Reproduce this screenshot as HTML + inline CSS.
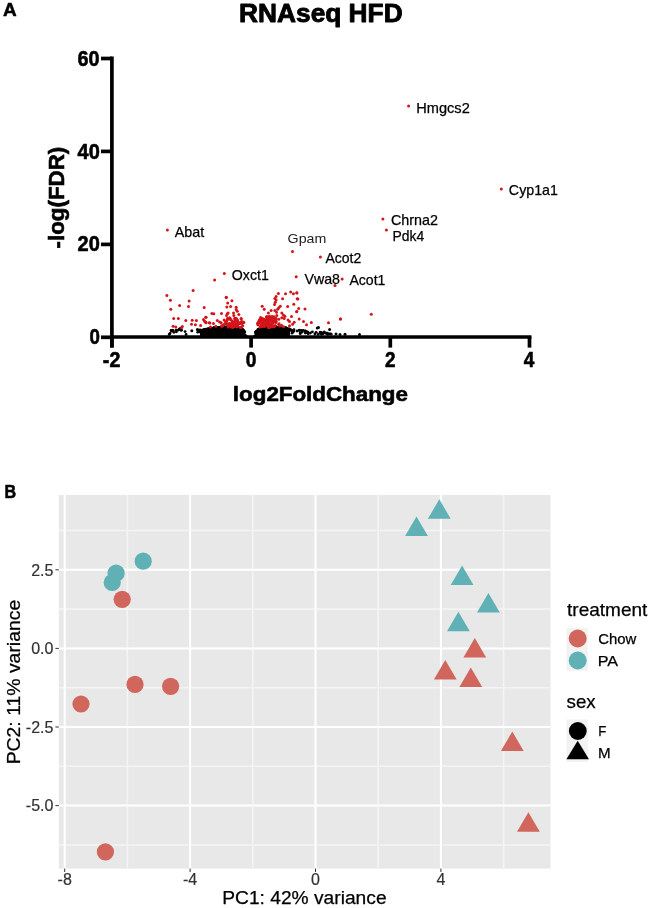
<!DOCTYPE html>
<html><head><meta charset="utf-8"><style>
html,body{margin:0;padding:0;background:#fff;width:650px;height:908px;overflow:hidden;}
svg{display:block;font-family:"Liberation Sans",sans-serif;}
#w{will-change:transform;width:650px;height:908px;}
</style></head><body><div id="w">
<svg width="650" height="908" viewBox="0 0 650 908">
<text x="3.13" y="15.95" font-family="Liberation Sans, sans-serif" font-weight="bold" stroke="#000" stroke-width="0.5" stroke-linejoin="round" font-size="17.46" textLength="13.69" lengthAdjust="spacingAndGlyphs" fill="#000">A</text>
<text x="239.09" y="22.35" font-family="Liberation Sans, sans-serif" font-weight="bold" stroke="#000" stroke-width="0.9" stroke-linejoin="round" font-size="26.30" textLength="163.53" lengthAdjust="spacingAndGlyphs" fill="#000">RNAseq HFD</text>
<g fill="#000">
<path d="M200.0,337.0 L200.0,332.1 L201.0,331.8 L202.0,331.8 L203.0,331.0 L204.0,330.7 L205.0,330.4 L206.0,329.9 L207.0,330.0 L208.0,330.0 L209.0,330.0 L210.0,329.2 L211.0,329.2 L212.0,328.9 L213.0,329.3 L214.0,329.1 L215.0,328.3 L216.0,329.1 L217.0,329.0 L218.0,328.7 L219.0,328.6 L220.0,328.1 L221.0,327.9 L222.0,328.3 L223.0,327.8 L224.0,327.8 L225.0,327.8 L226.0,327.6 L227.0,328.0 L228.0,328.0 L229.0,328.3 L230.0,328.0 L231.0,328.1 L232.0,328.0 L233.0,328.1 L234.0,327.9 L235.0,327.8 L236.0,328.6 L237.0,328.7 L238.0,328.8 L239.0,329.1 L240.0,329.2 L241.0,329.7 L242.0,330.4 L243.0,330.8 L244.0,332.0 L245.0,333.0 L246.0,334.0 L247.0,335.0 L248.0,336.0 L249.0,336.4 L250.0,336.8 L251.0,336.8 L252.0,336.4 L253.0,336.0 L254.0,335.0 L255.0,334.0 L256.0,332.8 L257.0,331.5 L258.0,330.9 L259.0,329.6 L260.0,329.4 L261.0,328.4 L262.0,328.8 L263.0,328.5 L264.0,327.5 L265.0,327.6 L266.0,328.2 L267.0,327.7 L268.0,328.1 L269.0,327.5 L270.0,327.2 L271.0,327.7 L272.0,327.9 L273.0,327.5 L274.0,327.4 L275.0,327.6 L276.0,328.3 L277.0,328.1 L278.0,327.6 L279.0,327.8 L280.0,327.7 L281.0,327.8 L282.0,328.6 L283.0,328.2 L284.0,328.7 L285.0,328.8 L286.0,328.7 L287.0,329.6 L288.0,329.5 L289.0,330.4 L290.0,330.3 L290.0,337.0 Z"/>
<circle cx="256.1" cy="331.8" r="1.45"/>
<circle cx="284.8" cy="329.2" r="1.45"/>
<circle cx="266.6" cy="326.8" r="1.45"/>
<circle cx="241.9" cy="329.4" r="1.45"/>
<circle cx="284.9" cy="328.8" r="1.45"/>
<circle cx="210.2" cy="329.9" r="1.45"/>
<circle cx="242.2" cy="329.6" r="1.45"/>
<circle cx="201.2" cy="331.7" r="1.45"/>
<circle cx="219.5" cy="327.7" r="1.45"/>
<circle cx="268.9" cy="328.4" r="1.45"/>
<circle cx="214.4" cy="327.8" r="1.45"/>
<circle cx="255.6" cy="332.8" r="1.45"/>
<circle cx="211.4" cy="330.0" r="1.45"/>
<circle cx="218.9" cy="327.4" r="1.45"/>
<circle cx="219.4" cy="329.1" r="1.45"/>
<circle cx="226.0" cy="327.1" r="1.45"/>
<circle cx="286.5" cy="329.3" r="1.45"/>
<circle cx="218.4" cy="327.7" r="1.45"/>
<circle cx="284.7" cy="328.5" r="1.45"/>
<circle cx="280.4" cy="329.2" r="1.45"/>
<circle cx="226.9" cy="327.2" r="1.45"/>
<circle cx="213.1" cy="328.3" r="1.45"/>
<circle cx="205.9" cy="329.5" r="1.45"/>
<circle cx="200.3" cy="332.1" r="1.45"/>
<circle cx="261.0" cy="327.8" r="1.45"/>
<circle cx="273.7" cy="327.2" r="1.45"/>
<circle cx="243.3" cy="330.7" r="1.45"/>
<circle cx="263.4" cy="327.9" r="1.45"/>
<circle cx="205.1" cy="329.4" r="1.45"/>
<circle cx="267.5" cy="326.6" r="1.45"/>
<circle cx="276.0" cy="328.3" r="1.45"/>
<circle cx="233.0" cy="327.0" r="1.45"/>
<circle cx="200.8" cy="331.3" r="1.45"/>
<circle cx="286.0" cy="328.0" r="1.45"/>
<circle cx="217.7" cy="327.5" r="1.45"/>
<circle cx="284.8" cy="329.7" r="1.45"/>
<circle cx="231.0" cy="327.5" r="1.45"/>
<circle cx="269.8" cy="327.3" r="1.45"/>
<circle cx="209.7" cy="328.5" r="1.45"/>
<circle cx="277.4" cy="328.4" r="1.45"/>
<circle cx="203.3" cy="330.2" r="1.45"/>
<circle cx="230.7" cy="327.0" r="1.45"/>
<circle cx="282.6" cy="328.4" r="1.45"/>
<circle cx="228.1" cy="328.6" r="1.45"/>
<circle cx="228.5" cy="327.0" r="1.45"/>
<circle cx="213.4" cy="328.2" r="1.45"/>
<circle cx="262.0" cy="327.7" r="1.45"/>
<circle cx="204.4" cy="329.4" r="1.45"/>
<circle cx="288.8" cy="329.9" r="1.45"/>
<circle cx="221.4" cy="327.3" r="1.45"/>
<circle cx="274.4" cy="327.5" r="1.45"/>
<circle cx="205.0" cy="329.5" r="1.45"/>
<circle cx="282.4" cy="328.3" r="1.45"/>
<circle cx="275.5" cy="326.9" r="1.45"/>
<circle cx="211.8" cy="328.4" r="1.45"/>
<circle cx="256.7" cy="333.0" r="1.45"/>
<circle cx="270.9" cy="327.2" r="1.45"/>
<circle cx="213.4" cy="328.4" r="1.45"/>
<circle cx="276.0" cy="327.0" r="1.45"/>
<circle cx="289.9" cy="330.4" r="1.45"/>
<circle cx="276.7" cy="327.7" r="1.45"/>
<circle cx="243.9" cy="331.1" r="1.45"/>
<circle cx="265.7" cy="327.4" r="1.45"/>
<circle cx="236.3" cy="327.1" r="1.45"/>
<circle cx="213.2" cy="329.8" r="1.45"/>
<circle cx="286.4" cy="329.8" r="1.45"/>
<circle cx="256.4" cy="332.0" r="1.45"/>
<circle cx="208.0" cy="328.7" r="1.45"/>
<circle cx="224.5" cy="327.3" r="1.45"/>
<circle cx="232.5" cy="328.6" r="1.45"/>
<circle cx="270.7" cy="326.7" r="1.45"/>
<circle cx="259.8" cy="329.5" r="1.45"/>
<circle cx="268.4" cy="327.4" r="1.45"/>
<circle cx="225.3" cy="328.0" r="1.45"/>
<circle cx="243.7" cy="330.9" r="1.45"/>
<circle cx="226.4" cy="328.3" r="1.45"/>
<circle cx="285.1" cy="328.4" r="1.45"/>
<circle cx="201.0" cy="331.6" r="1.45"/>
<circle cx="222.6" cy="327.5" r="1.45"/>
<circle cx="273.5" cy="327.5" r="1.45"/>
<circle cx="258.3" cy="329.5" r="1.45"/>
<circle cx="258.0" cy="330.3" r="1.45"/>
<circle cx="266.4" cy="327.0" r="1.45"/>
<circle cx="275.9" cy="327.4" r="1.45"/>
<circle cx="278.3" cy="327.7" r="1.45"/>
<circle cx="286.1" cy="330.1" r="1.45"/>
<circle cx="215.0" cy="328.7" r="1.45"/>
<circle cx="243.0" cy="331.8" r="1.45"/>
<circle cx="262.2" cy="327.4" r="1.45"/>
<circle cx="215.5" cy="329.0" r="1.45"/>
<circle cx="270.2" cy="327.6" r="1.45"/>
<circle cx="237.9" cy="327.9" r="1.45"/>
<circle cx="256.1" cy="331.8" r="1.45"/>
<circle cx="264.8" cy="328.0" r="1.45"/>
<circle cx="202.5" cy="330.6" r="1.45"/>
<circle cx="258.5" cy="329.8" r="1.45"/>
<circle cx="219.7" cy="327.8" r="1.45"/>
<circle cx="203.8" cy="330.8" r="1.45"/>
<circle cx="242.4" cy="329.7" r="1.45"/>
<circle cx="212.0" cy="328.4" r="1.45"/>
<circle cx="228.6" cy="327.1" r="1.45"/>
<circle cx="203.2" cy="330.4" r="1.45"/>
<circle cx="241.9" cy="330.2" r="1.45"/>
<circle cx="221.4" cy="328.0" r="1.45"/>
<circle cx="281.3" cy="328.0" r="1.45"/>
<circle cx="225.1" cy="326.9" r="1.45"/>
<circle cx="236.9" cy="328.4" r="1.45"/>
<circle cx="233.6" cy="327.9" r="1.45"/>
<circle cx="203.2" cy="330.1" r="1.45"/>
<circle cx="230.5" cy="327.1" r="1.45"/>
<circle cx="286.2" cy="328.3" r="1.45"/>
<circle cx="273.2" cy="327.4" r="1.45"/>
<circle cx="257.8" cy="330.0" r="1.45"/>
<circle cx="286.1" cy="328.2" r="1.45"/>
<circle cx="287.1" cy="328.9" r="1.45"/>
<circle cx="280.4" cy="327.5" r="1.45"/>
<circle cx="200.1" cy="331.9" r="1.45"/>
<circle cx="212.7" cy="328.7" r="1.45"/>
<circle cx="256.7" cy="331.6" r="1.45"/>
<circle cx="238.9" cy="328.2" r="1.45"/>
<circle cx="220.4" cy="327.8" r="1.45"/>
<circle cx="234.2" cy="329.1" r="1.45"/>
<circle cx="286.5" cy="329.1" r="1.45"/>
<circle cx="223.4" cy="327.6" r="1.45"/>
<circle cx="288.3" cy="329.7" r="1.45"/>
<circle cx="228.7" cy="326.9" r="1.45"/>
<circle cx="288.6" cy="329.6" r="1.45"/>
<circle cx="242.9" cy="330.0" r="1.45"/>
<circle cx="211.0" cy="328.9" r="1.45"/>
<circle cx="226.4" cy="327.6" r="1.45"/>
<circle cx="270.4" cy="326.5" r="1.45"/>
<circle cx="224.6" cy="327.1" r="1.45"/>
<circle cx="284.2" cy="327.7" r="1.45"/>
<circle cx="224.1" cy="327.6" r="1.45"/>
<circle cx="213.9" cy="328.5" r="1.45"/>
<circle cx="242.7" cy="329.9" r="1.45"/>
<circle cx="258.0" cy="330.6" r="1.45"/>
<circle cx="210.6" cy="329.2" r="1.45"/>
<circle cx="268.4" cy="326.9" r="1.45"/>
<circle cx="230.3" cy="327.9" r="1.45"/>
<circle cx="226.7" cy="327.9" r="1.45"/>
<circle cx="232.5" cy="327.0" r="1.45"/>
<circle cx="267.1" cy="326.8" r="1.45"/>
<circle cx="222.7" cy="327.2" r="1.45"/>
<circle cx="241.0" cy="330.4" r="1.45"/>
<circle cx="201.3" cy="331.5" r="1.45"/>
<circle cx="270.1" cy="327.5" r="1.45"/>
<circle cx="263.7" cy="327.4" r="1.45"/>
<circle cx="256.9" cy="332.6" r="1.45"/>
<circle cx="234.7" cy="327.0" r="1.45"/>
<circle cx="235.3" cy="327.2" r="1.45"/>
<circle cx="226.7" cy="327.4" r="1.45"/>
<circle cx="274.7" cy="328.2" r="1.45"/>
<circle cx="262.5" cy="327.8" r="1.45"/>
<circle cx="239.0" cy="328.1" r="1.45"/>
<circle cx="282.0" cy="328.7" r="1.45"/>
<circle cx="212.8" cy="329.1" r="1.45"/>
<circle cx="244.8" cy="331.9" r="1.45"/>
<circle cx="229.8" cy="327.5" r="1.45"/>
<circle cx="273.1" cy="327.5" r="1.45"/>
<circle cx="206.2" cy="329.2" r="1.45"/>
<circle cx="271.3" cy="328.1" r="1.45"/>
<circle cx="259.7" cy="329.5" r="1.45"/>
<circle cx="288.1" cy="328.9" r="1.45"/>
<circle cx="289.9" cy="329.5" r="1.45"/>
<circle cx="275.8" cy="327.0" r="1.45"/>
<circle cx="219.7" cy="328.6" r="1.45"/>
<circle cx="264.1" cy="328.6" r="1.45"/>
<circle cx="212.1" cy="328.6" r="1.45"/>
<circle cx="213.5" cy="329.8" r="1.45"/>
<circle cx="237.3" cy="327.8" r="1.45"/>
<circle cx="203.9" cy="330.7" r="1.45"/>
<circle cx="209.7" cy="328.7" r="1.45"/>
<circle cx="205.2" cy="329.4" r="1.45"/>
<circle cx="266.8" cy="327.0" r="1.45"/>
<circle cx="238.9" cy="328.0" r="1.45"/>
<circle cx="228.3" cy="327.7" r="1.45"/>
<circle cx="284.5" cy="328.2" r="1.45"/>
<circle cx="233.7" cy="328.1" r="1.45"/>
<circle cx="213.6" cy="328.3" r="1.45"/>
<circle cx="256.8" cy="332.7" r="1.45"/>
<circle cx="255.9" cy="332.0" r="1.45"/>
<circle cx="223.7" cy="327.6" r="1.45"/>
<circle cx="267.6" cy="326.8" r="1.45"/>
<circle cx="212.0" cy="328.2" r="1.45"/>
<circle cx="266.3" cy="327.5" r="1.45"/>
<circle cx="216.1" cy="327.8" r="1.45"/>
<circle cx="207.7" cy="330.1" r="1.45"/>
<circle cx="260.1" cy="328.3" r="1.45"/>
<circle cx="221.5" cy="327.4" r="1.45"/>
<circle cx="278.9" cy="327.6" r="1.45"/>
<circle cx="271.7" cy="326.6" r="1.45"/>
<circle cx="202.7" cy="330.1" r="1.45"/>
<circle cx="213.6" cy="328.1" r="1.45"/>
<circle cx="285.7" cy="328.0" r="1.45"/>
<circle cx="210.4" cy="328.9" r="1.45"/>
<circle cx="287.5" cy="329.3" r="1.45"/>
<circle cx="212.6" cy="329.4" r="1.45"/>
<circle cx="256.2" cy="331.9" r="1.45"/>
<circle cx="230.0" cy="327.4" r="1.45"/>
<circle cx="231.4" cy="327.2" r="1.45"/>
<circle cx="274.8" cy="327.0" r="1.45"/>
<circle cx="258.3" cy="329.5" r="1.45"/>
<circle cx="276.6" cy="327.6" r="1.45"/>
<circle cx="266.6" cy="326.9" r="1.45"/>
<circle cx="203.0" cy="330.2" r="1.45"/>
<circle cx="218.2" cy="329.2" r="1.45"/>
<circle cx="243.3" cy="330.8" r="1.45"/>
<circle cx="268.4" cy="327.5" r="1.45"/>
<circle cx="280.1" cy="326.9" r="1.45"/>
<circle cx="255.8" cy="333.0" r="1.45"/>
<circle cx="209.0" cy="329.0" r="1.45"/>
<circle cx="213.9" cy="328.2" r="1.45"/>
<circle cx="234.7" cy="327.5" r="1.45"/>
<circle cx="279.2" cy="327.3" r="1.45"/>
<circle cx="225.0" cy="327.5" r="1.45"/>
<circle cx="214.5" cy="327.8" r="1.45"/>
<circle cx="243.4" cy="331.0" r="1.45"/>
<circle cx="202.9" cy="330.7" r="1.45"/>
<circle cx="284.4" cy="328.0" r="1.45"/>
<circle cx="261.9" cy="327.7" r="1.45"/>
<circle cx="285.1" cy="328.6" r="1.45"/>
<circle cx="210.6" cy="328.7" r="1.45"/>
<circle cx="260.7" cy="328.2" r="1.45"/>
<circle cx="265.6" cy="327.0" r="1.45"/>
<circle cx="202.2" cy="330.7" r="1.45"/>
<circle cx="220.7" cy="328.0" r="1.45"/>
<circle cx="287.6" cy="328.9" r="1.45"/>
<circle cx="232.8" cy="327.2" r="1.45"/>
<circle cx="225.5" cy="327.8" r="1.45"/>
<circle cx="265.9" cy="326.8" r="1.45"/>
<circle cx="221.6" cy="327.7" r="1.45"/>
<circle cx="260.5" cy="328.9" r="1.45"/>
<circle cx="238.8" cy="328.1" r="1.45"/>
<circle cx="200.2" cy="330.0" r="1.4"/>
<circle cx="170.0" cy="333.5" r="1.4"/>
<circle cx="181.5" cy="330.2" r="1.4"/>
<circle cx="186.1" cy="334.5" r="1.4"/>
<circle cx="185.1" cy="331.6" r="1.4"/>
<circle cx="171.1" cy="330.3" r="1.4"/>
<circle cx="197.7" cy="332.2" r="1.4"/>
<circle cx="198.9" cy="330.2" r="1.4"/>
<circle cx="176.0" cy="330.2" r="1.4"/>
<circle cx="181.1" cy="330.3" r="1.4"/>
<circle cx="176.4" cy="331.8" r="1.4"/>
<circle cx="178.1" cy="330.2" r="1.4"/>
<circle cx="169.2" cy="334.4" r="1.4"/>
<circle cx="173.9" cy="332.3" r="1.4"/>
<circle cx="306.5" cy="332.7" r="1.4"/>
<circle cx="291.9" cy="330.7" r="1.4"/>
<circle cx="293.0" cy="332.0" r="1.4"/>
<circle cx="330.4" cy="333.9" r="1.4"/>
<circle cx="327.4" cy="333.2" r="1.4"/>
<circle cx="288.8" cy="331.8" r="1.4"/>
<circle cx="310.4" cy="333.0" r="1.4"/>
<circle cx="305.3" cy="333.0" r="1.4"/>
<circle cx="321.4" cy="334.3" r="1.4"/>
<circle cx="302.2" cy="332.1" r="1.4"/>
<circle cx="326.0" cy="333.1" r="1.4"/>
<circle cx="293.3" cy="330.8" r="1.4"/>
<circle cx="292.0" cy="333.2" r="1.4"/>
<circle cx="325.7" cy="333.2" r="1.4"/>
<circle cx="294.0" cy="329.7" r="1.4"/>
<circle cx="299.3" cy="330.3" r="1.4"/>
<circle cx="307.7" cy="332.9" r="1.4"/>
<circle cx="299.3" cy="330.2" r="1.4"/>
<circle cx="320.2" cy="332.2" r="1.4"/>
<circle cx="297.2" cy="331.0" r="1.4"/>
<circle cx="305.2" cy="330.9" r="1.4"/>
<circle cx="307.3" cy="331.9" r="1.4"/>
<circle cx="322.6" cy="333.5" r="1.4"/>
<circle cx="329.2" cy="334.0" r="1.4"/>
<circle cx="322.9" cy="333.6" r="1.4"/>
<circle cx="308.3" cy="333.8" r="1.4"/>
<circle cx="318.2" cy="334.4" r="1.4"/>
<circle cx="321.5" cy="333.8" r="1.4"/>
<circle cx="300.3" cy="333.7" r="1.4"/>
<circle cx="305.6" cy="331.1" r="1.4"/>
<circle cx="291.0" cy="329.8" r="1.4"/>
<circle cx="300.1" cy="333.0" r="1.4"/>
<circle cx="301.1" cy="330.4" r="1.4"/>
<circle cx="323.1" cy="333.6" r="1.4"/>
<circle cx="289.3" cy="329.0" r="1.4"/>
<circle cx="294.0" cy="331.1" r="1.4"/>
<circle cx="327.6" cy="334.4" r="1.4"/>
<circle cx="316.2" cy="332.3" r="1.4"/>
<circle cx="307.7" cy="332.1" r="1.4"/>
<circle cx="303.2" cy="330.4" r="1.4"/>
<circle cx="314.9" cy="334.0" r="1.4"/>
<circle cx="321.4" cy="332.4" r="1.4"/>
<circle cx="312.4" cy="331.8" r="1.4"/>
<circle cx="320.6" cy="333.2" r="1.4"/>
<circle cx="331.2" cy="334.2" r="1.4"/>
<circle cx="171.5" cy="330.9" r="1.5"/>
<circle cx="172.8" cy="330.2" r="1.5"/>
<circle cx="179.4" cy="328.9" r="1.5"/>
<circle cx="180.6" cy="328.3" r="1.5"/>
<circle cx="191.8" cy="330.8" r="1.5"/>
<circle cx="197.4" cy="329.5" r="1.5"/>
<circle cx="317.3" cy="328.1" r="1.5"/>
<circle cx="318.5" cy="327.4" r="1.5"/>
<circle cx="329.6" cy="329.6" r="1.5"/>
<circle cx="324.2" cy="332" r="1.5"/>
<circle cx="336" cy="334" r="1.5"/>
<circle cx="340" cy="334.5" r="1.5"/>
<circle cx="359.5" cy="334.5" r="1.5"/>
<circle cx="345" cy="334.2" r="1.5"/>
</g>
<g fill="#D3151B">
<circle cx="166.9" cy="295.4" r="1.5"/>
<circle cx="193.1" cy="290.5" r="1.5"/>
<circle cx="170.4" cy="300.2" r="1.5"/>
<circle cx="189.1" cy="300.9" r="1.5"/>
<circle cx="179.6" cy="305.6" r="1.5"/>
<circle cx="188.5" cy="306.4" r="1.5"/>
<circle cx="170.8" cy="309.2" r="1.5"/>
<circle cx="204.2" cy="307.5" r="1.5"/>
<circle cx="173.7" cy="318.5" r="1.5"/>
<circle cx="178.3" cy="318.5" r="1.5"/>
<circle cx="185.8" cy="320.4" r="1.5"/>
<circle cx="192.2" cy="320.2" r="1.5"/>
<circle cx="196.4" cy="320.5" r="1.5"/>
<circle cx="206.0" cy="317.2" r="1.5"/>
<circle cx="203.5" cy="319.6" r="1.5"/>
<circle cx="204.6" cy="321.2" r="1.5"/>
<circle cx="206.0" cy="322.7" r="1.5"/>
<circle cx="209.2" cy="322.8" r="1.5"/>
<circle cx="173.1" cy="326.2" r="1.5"/>
<circle cx="175.8" cy="326.9" r="1.5"/>
<circle cx="182.3" cy="326.5" r="1.5"/>
<circle cx="181.5" cy="327.7" r="1.5"/>
<circle cx="191.5" cy="324.2" r="1.5"/>
<circle cx="195.4" cy="324.8" r="1.5"/>
<circle cx="200.6" cy="325.4" r="1.5"/>
<circle cx="226.4" cy="297.3" r="1.5"/>
<circle cx="231.9" cy="300.8" r="1.5"/>
<circle cx="227.7" cy="303.1" r="1.5"/>
<circle cx="226.8" cy="306.9" r="1.5"/>
<circle cx="230.6" cy="306.5" r="1.5"/>
<circle cx="236.2" cy="307.3" r="1.5"/>
<circle cx="236.2" cy="309.6" r="1.5"/>
<circle cx="237.3" cy="311.2" r="1.5"/>
<circle cx="238.8" cy="314.6" r="1.5"/>
<circle cx="211.9" cy="313.5" r="1.5"/>
<circle cx="213.8" cy="313.8" r="1.5"/>
<circle cx="221.5" cy="313.5" r="1.5"/>
<circle cx="227.3" cy="313.8" r="1.5"/>
<circle cx="228.1" cy="313.1" r="1.5"/>
<circle cx="226.5" cy="315.4" r="1.5"/>
<circle cx="233.5" cy="313.1" r="1.5"/>
<circle cx="233.8" cy="315.4" r="1.5"/>
<circle cx="205.8" cy="317.3" r="1.5"/>
<circle cx="205.8" cy="322.3" r="1.5"/>
<circle cx="210.0" cy="323.1" r="1.5"/>
<circle cx="213.5" cy="323.5" r="1.5"/>
<circle cx="217.3" cy="320.4" r="1.5"/>
<circle cx="219.6" cy="321.9" r="1.5"/>
<circle cx="221.2" cy="322.7" r="1.5"/>
<circle cx="229.6" cy="317.7" r="1.5"/>
<circle cx="230.4" cy="318.8" r="1.5"/>
<circle cx="231.9" cy="320.8" r="1.5"/>
<circle cx="235.4" cy="320.8" r="1.5"/>
<circle cx="237.3" cy="321.5" r="1.5"/>
<circle cx="215.8" cy="326.2" r="1.5"/>
<circle cx="222.7" cy="325.4" r="1.5"/>
<circle cx="224.2" cy="324.2" r="1.5"/>
<circle cx="226.5" cy="323.8" r="1.5"/>
<circle cx="229.6" cy="324.6" r="1.5"/>
<circle cx="231.9" cy="325.4" r="1.5"/>
<circle cx="234.2" cy="323.1" r="1.5"/>
<circle cx="235.8" cy="324.6" r="1.5"/>
<circle cx="238.1" cy="324.6" r="1.5"/>
<circle cx="242.7" cy="325.8" r="1.5"/>
<circle cx="210.4" cy="326.9" r="1.5"/>
<circle cx="278.4" cy="293.5" r="1.5"/>
<circle cx="285.5" cy="293.8" r="1.5"/>
<circle cx="290.7" cy="291.9" r="1.5"/>
<circle cx="293.4" cy="293.8" r="1.5"/>
<circle cx="296.8" cy="292.7" r="1.5"/>
<circle cx="276.1" cy="296.5" r="1.5"/>
<circle cx="274.9" cy="298.5" r="1.5"/>
<circle cx="276.1" cy="300.0" r="1.5"/>
<circle cx="282.6" cy="298.8" r="1.5"/>
<circle cx="297.2" cy="298.8" r="1.5"/>
<circle cx="275.3" cy="302.3" r="1.5"/>
<circle cx="274.5" cy="304.6" r="1.5"/>
<circle cx="293.8" cy="304.2" r="1.5"/>
<circle cx="287.6" cy="306.5" r="1.5"/>
<circle cx="262.2" cy="306.2" r="1.5"/>
<circle cx="264.2" cy="309.2" r="1.5"/>
<circle cx="280.3" cy="306.2" r="1.5"/>
<circle cx="278.8" cy="307.7" r="1.5"/>
<circle cx="277.6" cy="309.2" r="1.5"/>
<circle cx="271.1" cy="310.4" r="1.5"/>
<circle cx="274.9" cy="310.4" r="1.5"/>
<circle cx="276.5" cy="312.3" r="1.5"/>
<circle cx="296.8" cy="311.5" r="1.5"/>
<circle cx="268.4" cy="313.1" r="1.5"/>
<circle cx="281.8" cy="313.1" r="1.5"/>
<circle cx="283.4" cy="315.0" r="1.5"/>
<circle cx="284.9" cy="316.2" r="1.5"/>
<circle cx="276.8" cy="315.4" r="1.5"/>
<circle cx="291.5" cy="316.5" r="1.5"/>
<circle cx="266.5" cy="317.0" r="1.5"/>
<circle cx="269.5" cy="316.2" r="1.5"/>
<circle cx="271.8" cy="317.0" r="1.5"/>
<circle cx="274.2" cy="317.7" r="1.5"/>
<circle cx="259.5" cy="320.8" r="1.5"/>
<circle cx="278.8" cy="319.2" r="1.5"/>
<circle cx="281.8" cy="317.7" r="1.5"/>
<circle cx="284.2" cy="318.5" r="1.5"/>
<circle cx="288.0" cy="320.0" r="1.5"/>
<circle cx="289.5" cy="321.5" r="1.5"/>
<circle cx="294.2" cy="322.3" r="1.5"/>
<circle cx="292.6" cy="324.2" r="1.5"/>
<circle cx="289.5" cy="325.8" r="1.5"/>
<circle cx="296.9" cy="293.1" r="1.5"/>
<circle cx="297.9" cy="299.1" r="1.5"/>
<circle cx="298.7" cy="308.5" r="1.5"/>
<circle cx="305.0" cy="309.1" r="1.5"/>
<circle cx="296.7" cy="311.7" r="1.5"/>
<circle cx="299.2" cy="319.1" r="1.5"/>
<circle cx="303.5" cy="321.4" r="1.5"/>
<circle cx="306.5" cy="324.8" r="1.5"/>
<circle cx="311.3" cy="322.5" r="1.5"/>
<circle cx="328.5" cy="322.7" r="1.5"/>
<circle cx="340.4" cy="319.1" r="1.5"/>
<circle cx="340.5" cy="319.0" r="1.5"/>
<circle cx="371.3" cy="314.3" r="1.5"/>
<circle cx="224.3" cy="273.4" r="1.5"/>
<circle cx="214.6" cy="280.0" r="1.5"/>
<circle cx="226.2" cy="297.4" r="1.5"/>
<circle cx="408.6" cy="106.0" r="1.5"/>
<circle cx="501.3" cy="188.9" r="1.5"/>
<circle cx="382.9" cy="218.9" r="1.5"/>
<circle cx="386.4" cy="230.0" r="1.5"/>
<circle cx="167.4" cy="230.0" r="1.5"/>
<circle cx="292.5" cy="251.6" r="1.5"/>
<circle cx="320.4" cy="257.1" r="1.5"/>
<circle cx="296.2" cy="276.8" r="1.5"/>
<circle cx="342.1" cy="279.0" r="1.5"/>
<circle cx="335.0" cy="285.4" r="1.5"/>
<circle cx="226.5" cy="323.2" r="1.5"/>
<circle cx="229.5" cy="323.7" r="1.5"/>
<circle cx="235.4" cy="318.6" r="1.5"/>
<circle cx="221.3" cy="326.0" r="1.5"/>
<circle cx="227.0" cy="320.2" r="1.5"/>
<circle cx="243.9" cy="322.5" r="1.5"/>
<circle cx="240.2" cy="322.5" r="1.5"/>
<circle cx="235.7" cy="319.4" r="1.5"/>
<circle cx="235.6" cy="326.2" r="1.5"/>
<circle cx="233.0" cy="325.0" r="1.5"/>
<circle cx="236.4" cy="318.6" r="1.5"/>
<circle cx="238.4" cy="323.6" r="1.5"/>
<circle cx="227.9" cy="318.3" r="1.5"/>
<circle cx="240.9" cy="322.5" r="1.5"/>
<circle cx="237.5" cy="326.3" r="1.5"/>
<circle cx="237.4" cy="326.8" r="1.5"/>
<circle cx="230.1" cy="325.6" r="1.5"/>
<circle cx="231.2" cy="326.9" r="1.5"/>
<circle cx="241.2" cy="318.9" r="1.5"/>
<circle cx="224.1" cy="320.1" r="1.5"/>
<circle cx="243.2" cy="322.1" r="1.5"/>
<circle cx="235.4" cy="320.9" r="1.5"/>
<circle cx="232.7" cy="321.7" r="1.5"/>
<circle cx="229.1" cy="323.6" r="1.5"/>
<circle cx="234.4" cy="326.6" r="1.5"/>
<circle cx="236.7" cy="326.8" r="1.5"/>
<circle cx="240.7" cy="327.4" r="1.5"/>
<circle cx="236.4" cy="319.5" r="1.5"/>
<circle cx="240.8" cy="327.2" r="1.5"/>
<circle cx="241.8" cy="323.4" r="1.5"/>
<circle cx="237.4" cy="320.0" r="1.5"/>
<circle cx="240.1" cy="323.4" r="1.5"/>
<circle cx="227.6" cy="318.6" r="1.5"/>
<circle cx="240.6" cy="327.4" r="1.5"/>
<circle cx="223.0" cy="325.6" r="1.5"/>
<circle cx="230.4" cy="319.4" r="1.5"/>
<circle cx="227.8" cy="325.3" r="1.5"/>
<circle cx="241.1" cy="318.4" r="1.5"/>
<circle cx="235.1" cy="318.4" r="1.5"/>
<circle cx="237.5" cy="321.1" r="1.5"/>
<circle cx="241.3" cy="327.3" r="1.5"/>
<circle cx="232.6" cy="327.5" r="1.5"/>
<circle cx="228.1" cy="318.7" r="1.5"/>
<circle cx="234.8" cy="318.3" r="1.5"/>
<circle cx="225.5" cy="321.9" r="1.5"/>
<circle cx="235.0" cy="319.5" r="1.5"/>
<circle cx="222.0" cy="326.2" r="1.5"/>
<circle cx="228.2" cy="327.1" r="1.5"/>
<circle cx="241.6" cy="321.6" r="1.5"/>
<circle cx="231.6" cy="322.9" r="1.5"/>
<circle cx="235.8" cy="323.7" r="1.5"/>
<circle cx="233.9" cy="323.9" r="1.5"/>
<circle cx="242.6" cy="322.8" r="1.5"/>
<circle cx="230.9" cy="324.8" r="1.5"/>
<circle cx="226.5" cy="320.9" r="1.5"/>
<circle cx="275.8" cy="322.5" r="1.5"/>
<circle cx="266.9" cy="316.6" r="1.5"/>
<circle cx="260.6" cy="317.5" r="1.5"/>
<circle cx="272.3" cy="323.3" r="1.5"/>
<circle cx="266.5" cy="323.4" r="1.5"/>
<circle cx="266.3" cy="321.6" r="1.5"/>
<circle cx="265.4" cy="324.3" r="1.5"/>
<circle cx="262.5" cy="324.6" r="1.5"/>
<circle cx="270.3" cy="323.9" r="1.5"/>
<circle cx="268.3" cy="327.1" r="1.5"/>
<circle cx="267.9" cy="323.0" r="1.5"/>
<circle cx="275.2" cy="320.0" r="1.5"/>
<circle cx="264.3" cy="320.6" r="1.5"/>
<circle cx="272.2" cy="323.1" r="1.5"/>
<circle cx="266.0" cy="325.0" r="1.5"/>
<circle cx="274.0" cy="316.8" r="1.5"/>
<circle cx="258.4" cy="323.5" r="1.5"/>
<circle cx="263.5" cy="318.9" r="1.5"/>
<circle cx="269.6" cy="318.6" r="1.5"/>
<circle cx="263.5" cy="321.3" r="1.5"/>
<circle cx="267.0" cy="320.0" r="1.5"/>
<circle cx="265.1" cy="320.2" r="1.5"/>
<circle cx="271.5" cy="325.9" r="1.5"/>
<circle cx="262.0" cy="318.4" r="1.5"/>
<circle cx="263.1" cy="326.2" r="1.5"/>
<circle cx="276.1" cy="321.5" r="1.5"/>
<circle cx="268.5" cy="322.3" r="1.5"/>
<circle cx="271.3" cy="318.6" r="1.5"/>
<circle cx="272.3" cy="318.5" r="1.5"/>
<circle cx="265.9" cy="323.6" r="1.5"/>
<circle cx="279.6" cy="325.9" r="1.5"/>
<circle cx="266.1" cy="319.7" r="1.5"/>
<circle cx="270.8" cy="325.2" r="1.5"/>
<circle cx="267.2" cy="321.1" r="1.5"/>
<circle cx="273.9" cy="321.1" r="1.5"/>
<circle cx="275.9" cy="318.2" r="1.5"/>
<circle cx="283.6" cy="326.8" r="1.5"/>
<circle cx="268.5" cy="327.4" r="1.5"/>
<circle cx="274.4" cy="326.7" r="1.5"/>
<circle cx="269.9" cy="325.7" r="1.5"/>
<circle cx="278.6" cy="324.4" r="1.5"/>
<circle cx="262.7" cy="320.3" r="1.5"/>
<circle cx="267.4" cy="319.0" r="1.5"/>
<circle cx="275.9" cy="319.7" r="1.5"/>
<circle cx="271.6" cy="325.4" r="1.5"/>
<circle cx="281.5" cy="325.3" r="1.5"/>
<circle cx="271.9" cy="326.7" r="1.5"/>
<circle cx="279.1" cy="323.8" r="1.5"/>
<circle cx="259.6" cy="319.5" r="1.5"/>
<circle cx="267.9" cy="319.8" r="1.5"/>
<circle cx="264.0" cy="323.8" r="1.5"/>
<circle cx="261.4" cy="326.8" r="1.5"/>
<circle cx="267.0" cy="323.2" r="1.5"/>
<circle cx="265.3" cy="326.0" r="1.5"/>
<circle cx="272.2" cy="321.7" r="1.5"/>
<circle cx="269.2" cy="318.7" r="1.5"/>
<circle cx="262.1" cy="322.4" r="1.5"/>
<circle cx="269.6" cy="325.2" r="1.5"/>
<circle cx="264.4" cy="326.6" r="1.5"/>
<circle cx="272.2" cy="316.6" r="1.5"/>
<circle cx="259.1" cy="320.7" r="1.5"/>
<circle cx="258.6" cy="322.9" r="1.5"/>
<circle cx="267.1" cy="321.2" r="1.5"/>
<circle cx="275.9" cy="321.7" r="1.5"/>
<circle cx="268.1" cy="317.1" r="1.5"/>
<circle cx="267.6" cy="317.9" r="1.5"/>
<circle cx="269.7" cy="327.2" r="1.5"/>
<circle cx="269.7" cy="325.9" r="1.5"/>
<circle cx="274.6" cy="320.0" r="1.5"/>
<circle cx="272.0" cy="320.0" r="1.5"/>
<circle cx="262.4" cy="323.0" r="1.5"/>
<circle cx="275.5" cy="320.5" r="1.5"/>
<circle cx="270.1" cy="317.9" r="1.5"/>
<circle cx="273.4" cy="322.6" r="1.5"/>
<circle cx="266.7" cy="317.4" r="1.5"/>
<circle cx="261.8" cy="318.5" r="1.5"/>
<circle cx="261.8" cy="325.1" r="1.5"/>
<circle cx="274.3" cy="320.7" r="1.5"/>
<circle cx="270.9" cy="321.2" r="1.5"/>
<circle cx="259.4" cy="322.6" r="1.5"/>
<circle cx="257.9" cy="324.7" r="1.5"/>
<circle cx="268.2" cy="324.1" r="1.5"/>
<circle cx="263.3" cy="322.4" r="1.5"/>
<circle cx="269.2" cy="324.1" r="1.5"/>
<circle cx="274.2" cy="321.2" r="1.5"/>
<circle cx="271.0" cy="326.2" r="1.5"/>
<circle cx="273.8" cy="326.4" r="1.5"/>
<circle cx="265.6" cy="325.2" r="1.5"/>
<circle cx="267.4" cy="317.9" r="1.5"/>
<circle cx="275.2" cy="325.4" r="1.5"/>
<circle cx="260.9" cy="325.3" r="1.5"/>
<circle cx="262.8" cy="322.7" r="1.5"/>
<circle cx="258.8" cy="321.6" r="1.5"/>
<circle cx="267.5" cy="318.1" r="1.5"/>
<circle cx="267.7" cy="325.0" r="1.5"/>
<circle cx="270.7" cy="317.6" r="1.5"/>
<circle cx="268.8" cy="326.2" r="1.5"/>
<circle cx="268.6" cy="325.8" r="1.5"/>
<circle cx="269.3" cy="317.8" r="1.5"/>
<circle cx="273.4" cy="325.7" r="1.5"/>
<circle cx="259.9" cy="327.1" r="1.5"/>
<circle cx="257.8" cy="323.1" r="1.5"/>
<circle cx="262.5" cy="324.9" r="1.5"/>
<circle cx="257.7" cy="323.5" r="1.5"/>
<circle cx="267.3" cy="324.7" r="1.5"/>
<circle cx="270.1" cy="320.1" r="1.5"/>
<circle cx="267.1" cy="322.7" r="1.5"/>
<circle cx="270.3" cy="318.5" r="1.5"/>
<circle cx="263.7" cy="319.2" r="1.5"/>
<circle cx="259.9" cy="322.2" r="1.5"/>
<circle cx="260.8" cy="320.9" r="1.5"/>
<circle cx="263.2" cy="321.1" r="1.5"/>
<circle cx="271.7" cy="317.4" r="1.5"/>
<circle cx="268.0" cy="321.0" r="1.5"/>
</g>
<line x1="111.9" y1="56.5" x2="111.9" y2="347.5" stroke="#000" stroke-width="3.7"/>
<line x1="110" y1="337.0" x2="531.5" y2="337.0" stroke="#000" stroke-width="3.7"/>
<line x1="101" y1="337.3" x2="111.9" y2="337.3" stroke="#000" stroke-width="3.7"/>
<text x="89.60" y="344.40" font-family="Liberation Sans, sans-serif" font-weight="bold" stroke="#000" stroke-width="0.6" stroke-linejoin="round" font-size="21.80" textLength="10.42" lengthAdjust="spacingAndGlyphs" fill="#000">0</text>
<line x1="101" y1="244.4" x2="111.9" y2="244.4" stroke="#000" stroke-width="3.7"/>
<text x="77.55" y="251.10" font-family="Liberation Sans, sans-serif" font-weight="bold" stroke="#000" stroke-width="0.6" stroke-linejoin="round" font-size="21.80" textLength="22.25" lengthAdjust="spacingAndGlyphs" fill="#000">20</text>
<line x1="101" y1="151.4" x2="111.9" y2="151.4" stroke="#000" stroke-width="3.7"/>
<text x="77.55" y="159.20" font-family="Liberation Sans, sans-serif" font-weight="bold" stroke="#000" stroke-width="0.6" stroke-linejoin="round" font-size="21.80" textLength="22.25" lengthAdjust="spacingAndGlyphs" fill="#000">40</text>
<line x1="101" y1="58.5" x2="111.9" y2="58.5" stroke="#000" stroke-width="3.7"/>
<text x="77.56" y="65.70" font-family="Liberation Sans, sans-serif" font-weight="bold" stroke="#000" stroke-width="0.6" stroke-linejoin="round" font-size="21.80" textLength="22.03" lengthAdjust="spacingAndGlyphs" fill="#000">60</text>
<line x1="111.9" y1="337.0" x2="111.9" y2="347.6" stroke="#000" stroke-width="3.7"/>
<text x="102.86" y="367.20" font-family="Liberation Sans, sans-serif" font-weight="bold" stroke="#000" stroke-width="0.6" stroke-linejoin="round" font-size="21.80" textLength="17.46" lengthAdjust="spacingAndGlyphs" fill="#000">-2</text>
<line x1="251.1" y1="337.0" x2="251.1" y2="347.6" stroke="#000" stroke-width="3.7"/>
<text x="245.78" y="367.20" font-family="Liberation Sans, sans-serif" font-weight="bold" stroke="#000" stroke-width="0.6" stroke-linejoin="round" font-size="21.80" textLength="10.66" lengthAdjust="spacingAndGlyphs" fill="#000">0</text>
<line x1="390.3" y1="337.0" x2="390.3" y2="347.6" stroke="#000" stroke-width="3.7"/>
<text x="385.09" y="367.20" font-family="Liberation Sans, sans-serif" font-weight="bold" stroke="#000" stroke-width="0.6" stroke-linejoin="round" font-size="21.80" textLength="10.54" lengthAdjust="spacingAndGlyphs" fill="#000">2</text>
<line x1="529.5" y1="337.0" x2="529.5" y2="347.6" stroke="#000" stroke-width="3.7"/>
<text x="523.86" y="367.20" font-family="Liberation Sans, sans-serif" font-weight="bold" stroke="#000" stroke-width="0.6" stroke-linejoin="round" font-size="21.80" textLength="10.60" lengthAdjust="spacingAndGlyphs" fill="#000">4</text>
<text x="232.89" y="400.50" font-family="Liberation Sans, sans-serif" font-weight="bold" stroke="#000" stroke-width="0.6" stroke-linejoin="round" font-size="20.76" textLength="175.02" lengthAdjust="spacingAndGlyphs" fill="#000">log2FoldChange</text>
<text transform="translate(64.10,247.55) rotate(-90)" x="-0.89" y="0" font-family="Liberation Sans, sans-serif" font-weight="bold" stroke="#000" stroke-width="0.6" stroke-linejoin="round" font-size="21.59" textLength="101.69" lengthAdjust="spacingAndGlyphs" fill="#000">-log(FDR)</text>
<text x="416.31" y="112.67" font-family="Liberation Sans, sans-serif" stroke="#000" stroke-width="0.25" stroke-linejoin="round" font-size="14.20" textLength="53.48" lengthAdjust="spacingAndGlyphs" fill="#000">Hmgcs2</text>
<text x="508.86" y="195.18" font-family="Liberation Sans, sans-serif" stroke="#000" stroke-width="0.25" stroke-linejoin="round" font-size="14.20" textLength="49.10" lengthAdjust="spacingAndGlyphs" fill="#000">Cyp1a1</text>
<text x="390.96" y="225.18" font-family="Liberation Sans, sans-serif" stroke="#000" stroke-width="0.25" stroke-linejoin="round" font-size="14.20" textLength="46.98" lengthAdjust="spacingAndGlyphs" fill="#000">Chrna2</text>
<text x="392.46" y="241.47" font-family="Liberation Sans, sans-serif" stroke="#000" stroke-width="0.25" stroke-linejoin="round" font-size="14.20" textLength="31.67" lengthAdjust="spacingAndGlyphs" fill="#000">Pdk4</text>
<text x="174.80" y="236.88" font-family="Liberation Sans, sans-serif" stroke="#000" stroke-width="0.25" stroke-linejoin="round" font-size="14.20" textLength="29.42" lengthAdjust="spacingAndGlyphs" fill="#000">Abat</text>
<text x="325.40" y="262.57" font-family="Liberation Sans, sans-serif" stroke="#000" stroke-width="0.25" stroke-linejoin="round" font-size="14.20" textLength="35.85" lengthAdjust="spacingAndGlyphs" fill="#000">Acot2</text>
<text x="304.40" y="283.98" font-family="Liberation Sans, sans-serif" stroke="#000" stroke-width="0.25" stroke-linejoin="round" font-size="14.20" textLength="35.61" lengthAdjust="spacingAndGlyphs" fill="#000">Vwa8</text>
<text x="349.40" y="284.68" font-family="Liberation Sans, sans-serif" stroke="#000" stroke-width="0.25" stroke-linejoin="round" font-size="14.20" textLength="36.06" lengthAdjust="spacingAndGlyphs" fill="#000">Acot1</text>
<text x="231.84" y="280.27" font-family="Liberation Sans, sans-serif" stroke="#000" stroke-width="0.25" stroke-linejoin="round" font-size="14.20" textLength="37.02" lengthAdjust="spacingAndGlyphs" fill="#000">Oxct1</text>
<text x="287.64" y="243.40" font-family="Liberation Sans, sans-serif" font-size="11.93" textLength="38.68" lengthAdjust="spacingAndGlyphs" fill="#222">Gpam</text>
<text x="4.41" y="497.90" font-family="Liberation Sans, sans-serif" font-weight="bold" stroke="#000" stroke-width="0.6" stroke-linejoin="round" font-size="18.33" textLength="11.60" lengthAdjust="spacingAndGlyphs" fill="#000">B</text>
<rect x="58.8" y="495.0" width="491.7" height="373.6" fill="#E8E8E8"/>
<line x1="127.4" y1="495.0" x2="127.4" y2="868.6" stroke="#F4F4F4" stroke-width="1.6"/>
<line x1="252.8" y1="495.0" x2="252.8" y2="868.6" stroke="#F4F4F4" stroke-width="1.6"/>
<line x1="378.2" y1="495.0" x2="378.2" y2="868.6" stroke="#F4F4F4" stroke-width="1.6"/>
<line x1="503.6" y1="495.0" x2="503.6" y2="868.6" stroke="#F4F4F4" stroke-width="1.6"/>
<line x1="58.8" y1="845.0" x2="550.5" y2="845.0" stroke="#F4F4F4" stroke-width="1.6"/>
<line x1="58.8" y1="766.3" x2="550.5" y2="766.3" stroke="#F4F4F4" stroke-width="1.6"/>
<line x1="58.8" y1="687.7" x2="550.5" y2="687.7" stroke="#F4F4F4" stroke-width="1.6"/>
<line x1="58.8" y1="609.1" x2="550.5" y2="609.1" stroke="#F4F4F4" stroke-width="1.6"/>
<line x1="58.8" y1="530.5" x2="550.5" y2="530.5" stroke="#F4F4F4" stroke-width="1.6"/>
<line x1="64.7" y1="495.0" x2="64.7" y2="868.6" stroke="#fff" stroke-width="2"/>
<line x1="64.7" y1="868.6" x2="64.7" y2="872.0" stroke="#333" stroke-width="1"/>
<text x="64.7" y="884.7" font-family="Liberation Sans, sans-serif" font-size="16" fill="#333" stroke="#333" stroke-width="0.2" text-anchor="middle">-8</text>
<line x1="190.1" y1="495.0" x2="190.1" y2="868.6" stroke="#fff" stroke-width="2"/>
<line x1="190.1" y1="868.6" x2="190.1" y2="872.0" stroke="#333" stroke-width="1"/>
<text x="190.1" y="884.7" font-family="Liberation Sans, sans-serif" font-size="16" fill="#333" stroke="#333" stroke-width="0.2" text-anchor="middle">-4</text>
<line x1="315.5" y1="495.0" x2="315.5" y2="868.6" stroke="#fff" stroke-width="2"/>
<line x1="315.5" y1="868.6" x2="315.5" y2="872.0" stroke="#333" stroke-width="1"/>
<text x="315.5" y="884.7" font-family="Liberation Sans, sans-serif" font-size="16" fill="#333" stroke="#333" stroke-width="0.2" text-anchor="middle">0</text>
<line x1="440.9" y1="495.0" x2="440.9" y2="868.6" stroke="#fff" stroke-width="2"/>
<line x1="440.9" y1="868.6" x2="440.9" y2="872.0" stroke="#333" stroke-width="1"/>
<text x="440.9" y="884.7" font-family="Liberation Sans, sans-serif" font-size="16" fill="#333" stroke="#333" stroke-width="0.2" text-anchor="middle">4</text>
<line x1="58.8" y1="805.6" x2="550.5" y2="805.6" stroke="#fff" stroke-width="2"/>
<line x1="55.4" y1="805.6" x2="58.8" y2="805.6" stroke="#333" stroke-width="1"/>
<text x="53.4" y="811.4" font-family="Liberation Sans, sans-serif" font-size="16" fill="#333" stroke="#333" stroke-width="0.2" text-anchor="end">-5.0</text>
<line x1="58.8" y1="727.0" x2="550.5" y2="727.0" stroke="#fff" stroke-width="2"/>
<line x1="55.4" y1="727.0" x2="58.8" y2="727.0" stroke="#333" stroke-width="1"/>
<text x="53.4" y="732.8" font-family="Liberation Sans, sans-serif" font-size="16" fill="#333" stroke="#333" stroke-width="0.2" text-anchor="end">-2.5</text>
<line x1="58.8" y1="648.4" x2="550.5" y2="648.4" stroke="#fff" stroke-width="2"/>
<line x1="55.4" y1="648.4" x2="58.8" y2="648.4" stroke="#333" stroke-width="1"/>
<text x="53.4" y="654.2" font-family="Liberation Sans, sans-serif" font-size="16" fill="#333" stroke="#333" stroke-width="0.2" text-anchor="end">0.0</text>
<line x1="58.8" y1="569.8" x2="550.5" y2="569.8" stroke="#fff" stroke-width="2"/>
<line x1="55.4" y1="569.8" x2="58.8" y2="569.8" stroke="#333" stroke-width="1"/>
<text x="53.4" y="575.6" font-family="Liberation Sans, sans-serif" font-size="16" fill="#333" stroke="#333" stroke-width="0.2" text-anchor="end">2.5</text>
<text x="222.24" y="903.67" font-family="Liberation Sans, sans-serif" stroke="#000" stroke-width="0.25" stroke-linejoin="round" font-size="18.00" textLength="164.35" lengthAdjust="spacingAndGlyphs" fill="#000">PC1: 42% variance</text>
<text transform="translate(20.18,762.82) rotate(-90)" x="-1.55" y="0" font-family="Liberation Sans, sans-serif" stroke="#000" stroke-width="0.25" stroke-linejoin="round" font-size="18.48" textLength="164.59" lengthAdjust="spacingAndGlyphs" fill="#000">PC2: 11% variance</text>
<circle cx="143.2" cy="561.2" r="8.6" fill="#60B1B5"/>
<circle cx="116.1" cy="573.2" r="8.6" fill="#60B1B5"/>
<circle cx="112.2" cy="582.5" r="8.6" fill="#60B1B5"/>
<circle cx="122.2" cy="599.3" r="8.6" fill="#D1665D"/>
<circle cx="81" cy="704" r="8.6" fill="#D1665D"/>
<circle cx="135" cy="684.4" r="8.6" fill="#D1665D"/>
<circle cx="170.6" cy="686.4" r="8.6" fill="#D1665D"/>
<circle cx="105.4" cy="851.9" r="8.6" fill="#D1665D"/>
<path d="M439.3,499.3 L450.7,518.8 L427.9,518.8 Z" fill="#60B1B5"/>
<path d="M416.5,516.5 L427.9,536.0 L405.1,536.0 Z" fill="#60B1B5"/>
<path d="M462.1,565.4 L473.5,584.9 L450.7,584.9 Z" fill="#60B1B5"/>
<path d="M488.4,593.1 L499.8,612.6 L477.0,612.6 Z" fill="#60B1B5"/>
<path d="M458.4,611.8 L469.8,631.3 L447.0,631.3 Z" fill="#60B1B5"/>
<path d="M474.8,637.9 L486.2,657.4 L463.4,657.4 Z" fill="#D1665D"/>
<path d="M445.3,660.1 L456.7,679.6 L433.9,679.6 Z" fill="#D1665D"/>
<path d="M470.8,667.5 L482.2,687.0 L459.4,687.0 Z" fill="#D1665D"/>
<path d="M512.3,731.5 L523.7,751.0 L500.9,751.0 Z" fill="#D1665D"/>
<path d="M528.4,812.2 L539.8,831.7 L517.0,831.7 Z" fill="#D1665D"/>
<text x="567.09" y="616.08" font-family="Liberation Sans, sans-serif" stroke="#000" stroke-width="0.25" stroke-linejoin="round" font-size="19.00" textLength="80.31" lengthAdjust="spacingAndGlyphs" fill="#000">treatment</text>
<rect x="566.6" y="628.2" width="21.2" height="42.6" fill="#F2F2F2"/>
<circle cx="577.7" cy="638.5" r="9" fill="#D1665D"/>
<circle cx="577.7" cy="660.5" r="9" fill="#60B1B5"/>
<text x="598.23" y="644.48" font-family="Liberation Sans, sans-serif" stroke="#000" stroke-width="0.25" stroke-linejoin="round" font-size="14.07" textLength="38.15" lengthAdjust="spacingAndGlyphs" fill="#000">Chow</text>
<text x="597.68" y="666.08" font-family="Liberation Sans, sans-serif" stroke="#000" stroke-width="0.25" stroke-linejoin="round" font-size="14.78" textLength="20.34" lengthAdjust="spacingAndGlyphs" fill="#000">PA</text>
<text x="566.51" y="708.38" font-family="Liberation Sans, sans-serif" stroke="#000" stroke-width="0.25" stroke-linejoin="round" font-size="19.00" textLength="29.22" lengthAdjust="spacingAndGlyphs" fill="#000">sex</text>
<rect x="566.6" y="719.5" width="21.2" height="42.6" fill="#F2F2F2"/>
<circle cx="577.8" cy="731" r="8.9" fill="#000"/>
<path d="M577.7,740.8 L589.0,759.2 L566.4,759.2 Z" fill="#000"/>
<text x="598.22" y="736.48" font-family="Liberation Sans, sans-serif" stroke="#000" stroke-width="0.25" stroke-linejoin="round" font-size="14.20" textLength="8.04" lengthAdjust="spacingAndGlyphs" fill="#000">F</text>
<text x="598.06" y="758.17" font-family="Liberation Sans, sans-serif" stroke="#000" stroke-width="0.25" stroke-linejoin="round" font-size="14.49" textLength="12.62" lengthAdjust="spacingAndGlyphs" fill="#000">M</text>
</svg></div>
</body></html>
